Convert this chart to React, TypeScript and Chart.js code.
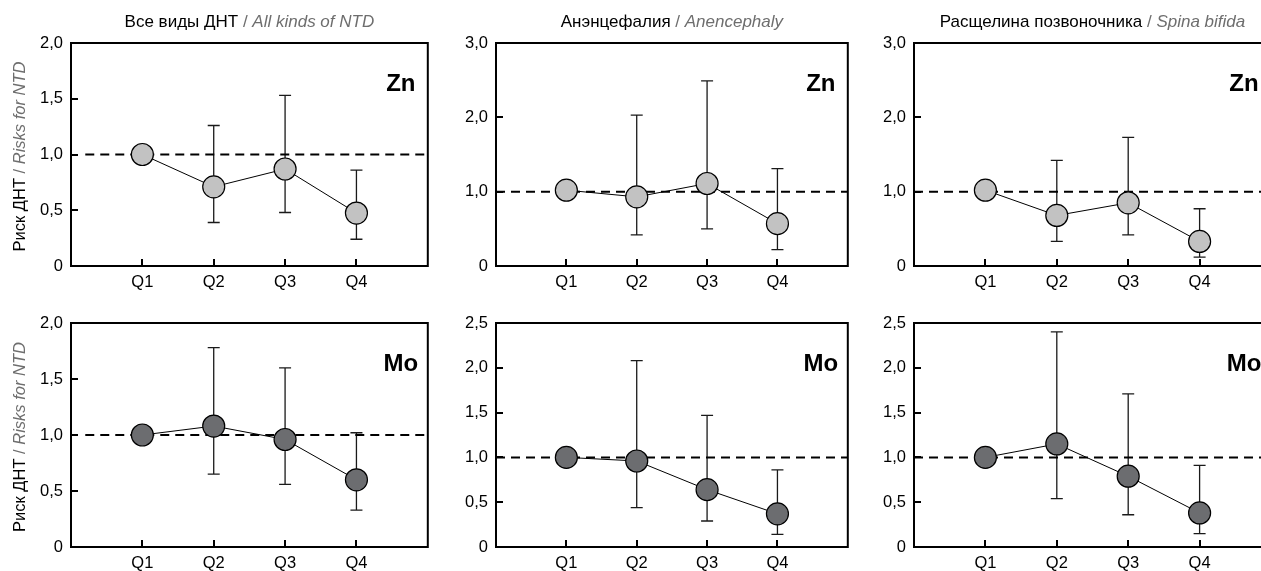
import React, { useEffect, useRef } from 'react';
import { Chart, registerables } from 'chart.js';

Chart.register(...registerables);

// ---------- data ----------
const quartiles = ['Q1', 'Q2', 'Q3', 'Q4'];
const quartilePos = [1, 2, 3, 4];

const znAllRisk = [1.0, 0.71, 0.87, 0.475];
const znAllLow = [null, 0.39, 0.48, 0.24];
const znAllHigh = [null, 1.26, 1.53, 0.86];

const znAnenRisk = [1.02, 0.93, 1.11, 0.57];
const znAnenLow = [null, 0.42, 0.5, 0.22];
const znAnenHigh = [null, 2.03, 2.49, 1.31];

const znSpinaRisk = [1.02, 0.68, 0.85, 0.33];
const znSpinaLow = [null, 0.33, 0.42, 0.12];
const znSpinaHigh = [null, 1.42, 1.73, 0.77];

const moAllRisk = [1.0, 1.08, 0.96, 0.6];
const moAllLow = [null, 0.65, 0.56, 0.33];
const moAllHigh = [null, 1.78, 1.6, 1.02];

const moAnenRisk = [1.0, 0.96, 0.64, 0.37];
const moAnenLow = [null, 0.44, 0.29, 0.14];
const moAnenHigh = [null, 2.08, 1.47, 0.86];

const moSpinaRisk = [1.0, 1.15, 0.79, 0.38];
const moSpinaLow = [null, 0.54, 0.36, 0.15];
const moSpinaHigh = [null, 2.4, 1.71, 0.91];

const referenceLevel = 1.0;

const titlesRu = ['Все виды ДНТ', 'Анэнцефалия', 'Расщелина позвоночника'];
const titlesEn = ['All kinds of NTD', 'Anencephaly', 'Spina bifida'];
const yTitleRu = 'Риск ДНТ';
const yTitleEn = 'Risks for NTD';
const elementLabels = ['Zn', 'Mo'];

const yMaxRow1 = [2.0, 3.0, 3.0];
const yStepRow1 = [0.5, 1.0, 1.0];
const yMaxRow2 = [2.0, 2.5, 2.5];
const yStepRow2 = [0.5, 0.5, 0.5];

// ---------- styling ----------
const FONT = "'Liberation Sans', Arial, Helvetica, sans-serif";
const GRAY_TEXT = '#6e6e6e';
const ZN_FILL = '#c2c2c2';
const MO_FILL = '#6c6d70';
const TICK_SIZE = 16.5;
const TITLE_SIZE = 17;
const YTITLE_SIZE = 16.5;

// layout per column / row (canvas geometry)
const cols = [
  { x: 0, w: 440, padLeft: 30, padRight: 12, refStart: 0.2 },
  { x: 440, w: 420, padLeft: 15, padRight: 11, refStart: 0 },
  { x: 860, w: 430, padLeft: 13, padRight: 19, refStart: 0 },
];
const rows = [
  { y: 0, h: 290, padTop: 43, axisH: 24 },
  { y: 290, h: 290, padTop: 33, axisH: 33 },
];
const Y_AXIS_W = 41;

type Seg = { text: string; font: string; color: string };

function drawSegments(ctx: CanvasRenderingContext2D, segs: Seg[], cx: number, y: number) {
  let total = 0;
  const widths = segs.map((s) => {
    ctx.font = s.font;
    const w = ctx.measureText(s.text).width;
    total += w;
    return w;
  });
  let x = cx - total / 2;
  ctx.textAlign = 'left';
  segs.forEach((s, i) => {
    ctx.font = s.font;
    ctx.fillStyle = s.color;
    ctx.fillText(s.text, x, y);
    x += widths[i];
  });
}

type PanelCfg = {
  risk: number[];
  low: (number | null)[];
  high: (number | null)[];
  yMax: number;
  yStep: number;
  fill: string;
  label: string;
  col: number;
  row: number;
  title?: { ru: string; en: string };
  yTitle: boolean;
};

function Panel({ cfg }: { cfg: PanelCfg }) {
  const ref = useRef<HTMLCanvasElement>(null);
  const c = cols[cfg.col];
  const r = rows[cfg.row];

  useEffect(() => {
    const decor = {
      id: 'decor',
      beforeDatasetsDraw(chart: any) {
        const { ctx, scales } = chart;
        const xs = scales.x;
        const ys = scales.y;
        ctx.save();
        ctx.strokeStyle = '#1a1a1a';
        ctx.lineWidth = 1.3;
        ctx.beginPath();
        quartilePos.forEach((q, i) => {
          const lo = cfg.low[i];
          const hi = cfg.high[i];
          if (lo == null || hi == null) return;
          const px = xs.getPixelForValue(q);
          const pl = ys.getPixelForValue(lo);
          const ph = ys.getPixelForValue(hi);
          ctx.moveTo(px, pl);
          ctx.lineTo(px, ph);
          ctx.moveTo(px - 6, ph);
          ctx.lineTo(px + 6, ph);
          ctx.moveTo(px - 6, pl);
          ctx.lineTo(px + 6, pl);
        });
        ctx.stroke();
        ctx.restore();
      },
      afterDraw(chart: any) {
        const { ctx, chartArea: ca, scales } = chart;
        const xs = scales.x;
        const ys = scales.y;
        ctx.save();
        ctx.strokeStyle = '#000';
        ctx.lineWidth = 2;
        ctx.strokeRect(ca.left, ca.top, ca.right - ca.left, ca.bottom - ca.top);
        ctx.beginPath();
        quartilePos.forEach((q) => {
          const px = Math.round(xs.getPixelForValue(q));
          ctx.moveTo(px, ca.bottom);
          ctx.lineTo(px, ca.bottom - 7);
        });
        ys.ticks.forEach((t: any) => {
          if (t.value === 0) return;
          const py = Math.round(ys.getPixelForValue(t.value));
          ctx.moveTo(ca.left, py);
          ctx.lineTo(ca.left + 7, py);
        });
        ctx.stroke();

        ctx.fillStyle = '#000';
        ctx.font = `bold 24px ${FONT}`;
        ctx.textAlign = 'center';
        ctx.textBaseline = 'alphabetic';
        ctx.fillText(cfg.label, ca.right - 27, ca.top + 48);

        if (cfg.title) {
          drawSegments(
            ctx,
            [
              { text: cfg.title.ru, font: `${TITLE_SIZE}px ${FONT}`, color: '#000' },
              { text: ' / ', font: `${TITLE_SIZE}px ${FONT}`, color: GRAY_TEXT },
              { text: cfg.title.en, font: `italic ${TITLE_SIZE}px ${FONT}`, color: GRAY_TEXT },
            ],
            (ca.left + ca.right) / 2,
            27
          );
        }
        if (cfg.yTitle) {
          ctx.save();
          ctx.translate(20, (ca.top + ca.bottom) / 2 + 2);
          ctx.rotate(-Math.PI / 2);
          ctx.textBaseline = 'middle';
          drawSegments(
            ctx,
            [
              { text: yTitleRu, font: `${YTITLE_SIZE}px ${FONT}`, color: '#000' },
              { text: ' / ', font: `${YTITLE_SIZE}px ${FONT}`, color: GRAY_TEXT },
              { text: yTitleEn, font: `italic ${YTITLE_SIZE}px ${FONT}`, color: GRAY_TEXT },
            ],
            0,
            0
          );
          ctx.restore();
        }
        ctx.restore();
      },
    };

    const chart = new Chart(ref.current as HTMLCanvasElement, {
      type: 'line',
      data: {
        datasets: [
          {
            label: 'risk',
            data: quartilePos.map((q, i) => ({ x: q, y: cfg.risk[i] })),
            borderColor: '#000',
            borderWidth: 1,
            pointRadius: 11,
            pointHoverRadius: 11,
            pointBackgroundColor: cfg.fill,
            pointBorderColor: '#000',
            pointBorderWidth: 1.2,
            fill: false,
            order: 1,
          },
          {
            label: 'ref',
            data: [
              { x: c.refStart, y: referenceLevel },
              { x: 5, y: referenceLevel },
            ],
            borderColor: '#000',
            borderWidth: 2,
            borderDash: [9, 6],
            pointRadius: 0,
            fill: false,
            order: 3,
          },
        ],
      },
      options: {
        responsive: false,
        animation: false,
        events: [],
        layout: { padding: { left: c.padLeft, right: c.padRight, top: r.padTop, bottom: 0 } },
        plugins: { legend: { display: false }, tooltip: { enabled: false }, title: { display: false } },
        scales: {
          x: {
            type: 'linear',
            min: 0,
            max: 5,
            grid: { display: false, drawTicks: false, tickLength: 0 },
            border: { display: false },
            afterBuildTicks: (s: any) => {
              s.ticks = quartilePos.map((v) => ({ value: v }));
            },
            afterFit: (s: any) => {
              s.height = r.axisH;
            },
            ticks: {
              autoSkip: false,
              maxRotation: 0,
              padding: 7,
              color: '#000',
              font: { family: FONT, size: TICK_SIZE },
              callback: (v: any) => {
                const idx = quartilePos.indexOf(Number(v));
                return idx >= 0 ? quartiles[idx] : '';
              },
            },
          },
          y: {
            type: 'linear',
            min: 0,
            max: cfg.yMax,
            grid: { display: false, drawTicks: false, tickLength: 0 },
            border: { display: false },
            afterFit: (s: any) => {
              s.width = Y_AXIS_W;
            },
            ticks: {
              stepSize: cfg.yStep,
              padding: 8,
              color: '#000',
              font: { family: FONT, size: TICK_SIZE },
              callback: (v: any) => (Number(v) === 0 ? '0' : Number(v).toFixed(1).replace('.', ',')),
            },
          },
        },
      },
      plugins: [decor],
    } as any);
    return () => chart.destroy();
  }, []);

  return (
    <canvas
      ref={ref}
      width={c.w}
      height={r.h}
      style={{ position: 'absolute', left: c.x, top: r.y, width: c.w, height: r.h }}
    />
  );
}

const panels: PanelCfg[] = [
  { risk: znAllRisk, low: znAllLow, high: znAllHigh, yMax: yMaxRow1[0], yStep: yStepRow1[0], fill: ZN_FILL, label: elementLabels[0], col: 0, row: 0, title: { ru: titlesRu[0], en: titlesEn[0] }, yTitle: true },
  { risk: znAnenRisk, low: znAnenLow, high: znAnenHigh, yMax: yMaxRow1[1], yStep: yStepRow1[1], fill: ZN_FILL, label: elementLabels[0], col: 1, row: 0, title: { ru: titlesRu[1], en: titlesEn[1] }, yTitle: false },
  { risk: znSpinaRisk, low: znSpinaLow, high: znSpinaHigh, yMax: yMaxRow1[2], yStep: yStepRow1[2], fill: ZN_FILL, label: elementLabels[0], col: 2, row: 0, title: { ru: titlesRu[2], en: titlesEn[2] }, yTitle: false },
  { risk: moAllRisk, low: moAllLow, high: moAllHigh, yMax: yMaxRow2[0], yStep: yStepRow2[0], fill: MO_FILL, label: elementLabels[1], col: 0, row: 1, yTitle: true },
  { risk: moAnenRisk, low: moAnenLow, high: moAnenHigh, yMax: yMaxRow2[1], yStep: yStepRow2[1], fill: MO_FILL, label: elementLabels[1], col: 1, row: 1, yTitle: false },
  { risk: moSpinaRisk, low: moSpinaLow, high: moSpinaHigh, yMax: yMaxRow2[2], yStep: yStepRow2[2], fill: MO_FILL, label: elementLabels[1], col: 2, row: 1, yTitle: false },
];

export default function App() {
  return (
    <div
      style={{
        position: 'absolute',
        left: 0,
        top: 0,
        width: 1261,
        height: 571,
        overflow: 'hidden',
        background: '#fff',
      }}
    >
      {panels.map((p, i) => (
        <Panel key={i} cfg={p} />
      ))}
    </div>
  );
}
